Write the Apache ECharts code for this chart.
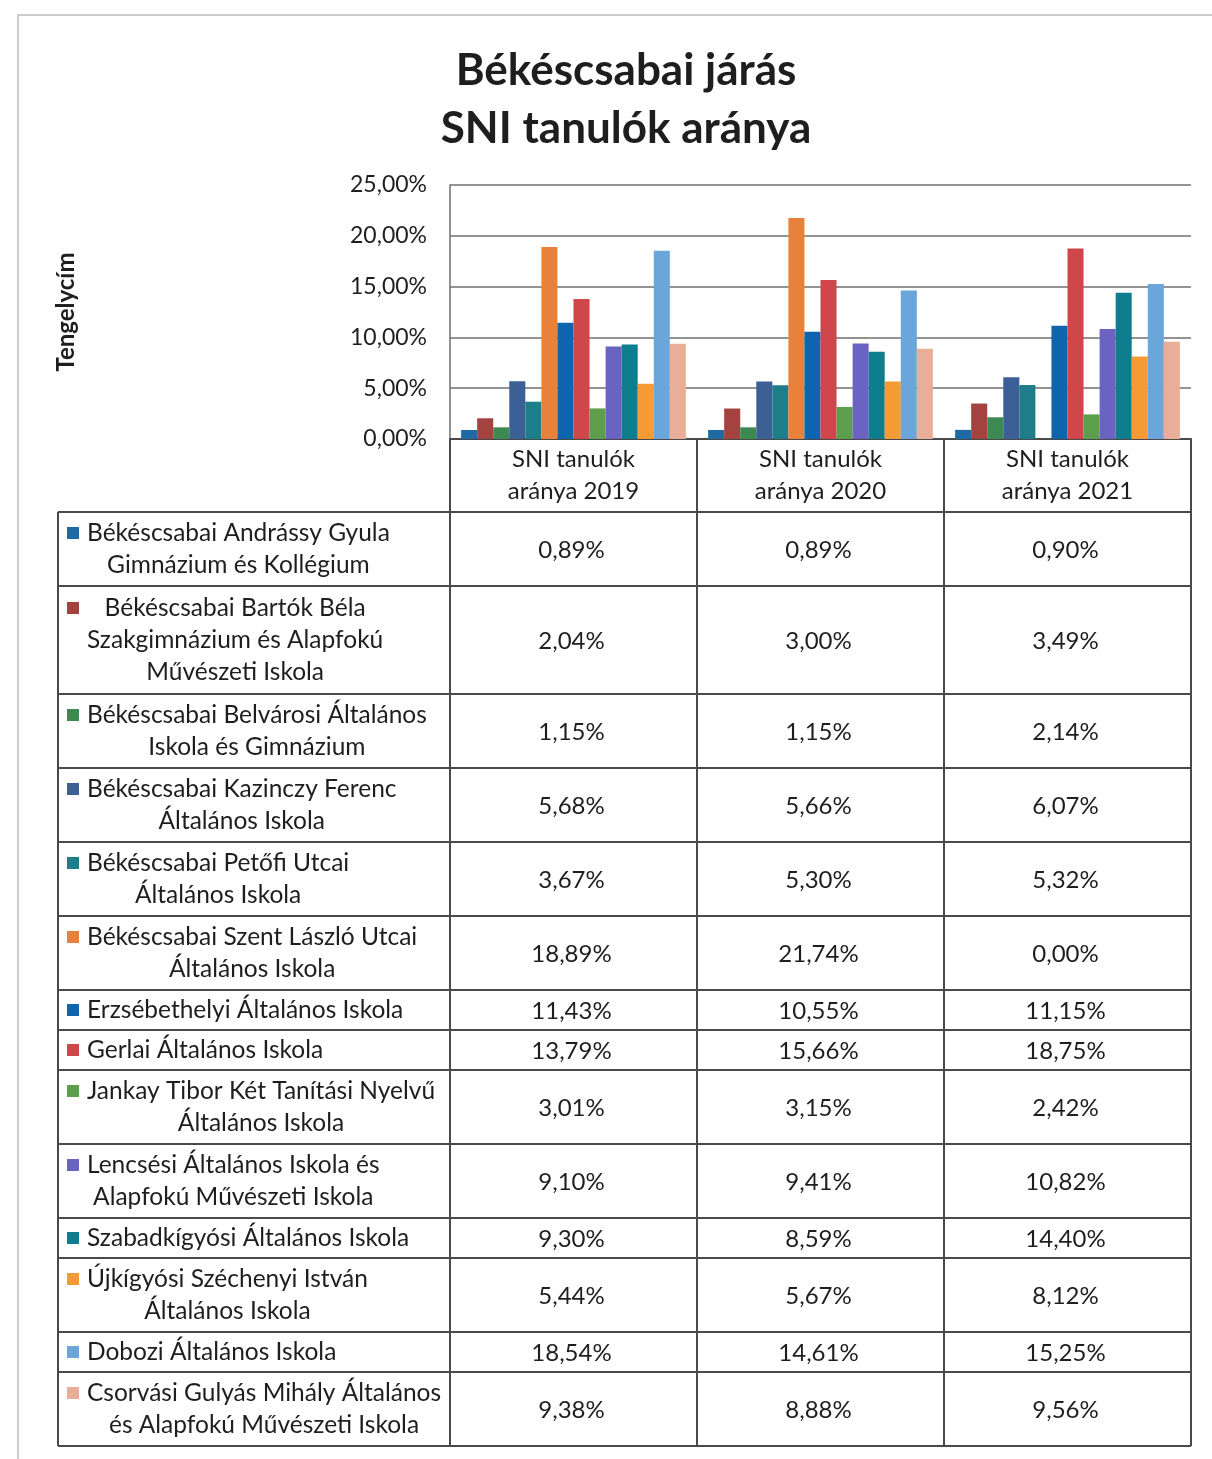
<!DOCTYPE html>
<html>
<head>
<meta charset="utf-8">
<script src="https://cdn.jsdelivr.net/npm/echarts@6/dist/echarts.min.js"></script>
<style>
html, body { margin: 0; padding: 0; background: #fff; }
#chart { width: 1212px; height: 1459px; }
</style>
</head>
<body>
<div id="chart"></div>
<script>
// adatok
var years = ['SNI tanulók\naránya 2019', 'SNI tanulók\naránya 2020', 'SNI tanulók\naránya 2021'];
var schools = [
    'Békéscsabai Andrássy Gyula\nGimnázium és Kollégium',
    'Békéscsabai Bartók Béla\nSzakgimnázium és Alapfokú\nMűvészeti Iskola',
    'Békéscsabai Belvárosi Általános\nIskola és Gimnázium',
    'Békéscsabai Kazinczy Ferenc\nÁltalános Iskola',
    'Békéscsabai Petőfi Utcai\nÁltalános Iskola',
    'Békéscsabai Szent László Utcai\nÁltalános Iskola',
    'Erzsébethelyi Általános Iskola',
    'Gerlai Általános Iskola',
    'Jankay Tibor Két Tanítási Nyelvű\nÁltalános Iskola',
    'Lencsési Általános Iskola és\nAlapfokú Művészeti Iskola',
    'Szabadkígyósi Általános Iskola',
    'Újkígyósi Széchenyi István\nÁltalános Iskola',
    'Dobozi Általános Iskola',
    'Csorvási Gulyás Mihály Általános\nés Alapfokú Művészeti Iskola'
];
var v2019 = [0.89, 2.04, 1.15, 5.68, 3.67, 18.89, 11.43, 13.79, 3.01, 9.10, 9.30, 5.44, 18.54, 9.38];
var v2020 = [0.89, 3.00, 1.15, 5.66, 5.30, 21.74, 10.55, 15.66, 3.15, 9.41, 8.59, 5.67, 14.61, 8.88];
var v2021 = [0.90, 3.49, 2.14, 6.07, 5.32, 0.00, 11.15, 18.75, 2.42, 10.82, 14.40, 8.12, 15.25, 9.56];
var yTicks = [0, 5, 10, 15, 20, 25];

var colors = ['#1f6aa3', '#a3423f', '#3c8a52', '#3c5f96', '#1d7d88', '#e8813a', '#0f65ad', '#cf464b',
              '#5c9e4c', '#6b63c2', '#0e7e8e', '#f69a35', '#6aa6da', '#e9ae98'];

var FONT = 'Lato, "Open Sans", sans-serif';
var TXT = '#1e1e1e';
var fmt = function (v) { return v.toFixed(2).replace('.', ',') + '%'; };

// elrendezés
var gridLeft = 450, gridTop = 185, gridW = 741, gridH = 254;
var colW = gridW / years.length;
var tableLeft = 58, headBottom = 512;
var lineColor = '#4a4a4a';

var myChart = echarts.init(document.getElementById('chart'));

var series = [];
for (var i = 0; i < schools.length; i++) {
    series.push({
        name: schools[i],
        type: 'bar',
        barGap: '0%',
        barCategoryGap: '9%',
        itemStyle: { color: colors[i] },
        data: [v2019[i], v2020[i], v2021[i]]
    });
}

// adattábla
var graphic = [];
var vals = [v2019, v2020, v2021];
var y = headBottom;
var gridBottom = gridTop + gridH;
graphic.push({ type: 'line', shape: { x1: tableLeft, y1: y, x2: gridLeft + gridW, y2: y }, style: { stroke: lineColor, lineWidth: 2 } });
for (var r = 0; r < schools.length; r++) {
    var parts = schools[r].split('\n');
    var lines = parts.length;
    var h = 40 + 34 * (lines - 1);
    var cy = y + h / 2;
    graphic.push({
        type: 'rect',
        shape: { x: tableLeft + 9, y: cy - (lines - 1) * 16 - 6, width: 12, height: 12 },
        style: { fill: colors[r] }
    });
    // sorok középre igazítva, a blokk a jel után kezdődik
    graphic.push({
        type: 'text',
        style: {
            text: '{c|' + parts.join('}\n{c|') + '}',
            x: tableLeft + 29, y: cy, align: 'left', verticalAlign: 'middle',
            rich: { c: { align: 'center', fontSize: 24.5, fontFamily: FONT, lineHeight: 32, fill: TXT, color: TXT } },
            fontSize: 24.5, fontFamily: FONT, lineHeight: 32, fill: TXT
        }
    });
    for (var c = 0; c < years.length; c++) {
        graphic.push({
            type: 'text',
            style: { text: fmt(vals[c][r]), x: gridLeft + colW * (c + 0.5) - 2, y: cy + 1, align: 'center', verticalAlign: 'middle', font: '24px ' + FONT, fill: TXT }
        });
    }
    y += h;
    graphic.push({ type: 'line', shape: { x1: tableLeft, y1: y, x2: gridLeft + gridW, y2: y }, style: { stroke: lineColor, lineWidth: 2 } });
}
var tableBottom = y;
graphic.push({ type: 'line', shape: { x1: tableLeft, y1: headBottom, x2: tableLeft, y2: tableBottom }, style: { stroke: lineColor, lineWidth: 2 } });
for (var k = 0; k <= years.length; k++) {
    graphic.push({ type: 'line', shape: { x1: gridLeft + colW * k, y1: gridBottom, x2: gridLeft + colW * k, y2: tableBottom }, style: { stroke: lineColor, lineWidth: 2 } });
}
// külső keret
graphic.push({ type: 'rect', shape: { x: 18, y: 15, width: 1300, height: 1500 }, style: { fill: null, stroke: '#bdbdbd', lineWidth: 1.5 }, z: -1 });

myChart.setOption({
    animation: false,
    textStyle: { fontFamily: FONT },
    title: {
        text: 'Békéscsabai járás\nSNI tanulók aránya',
        left: 621,
        top: 37,
        textAlign: 'center',
        textStyle: { fontSize: 44, fontWeight: 'bold', color: TXT, lineHeight: 58, fontFamily: FONT }
    },
    grid: { left: gridLeft, top: gridTop, width: gridW, height: gridH },
    xAxis: {
        type: 'category',
        data: years,
        axisLine: { lineStyle: { color: lineColor, width: 2 } },
        axisTick: { show: false },
        axisLabel: { margin: 4, fontSize: 24, lineHeight: 32, color: TXT, interval: 0 }
    },
    yAxis: {
        type: 'value',
        min: yTicks[0],
        max: yTicks[yTicks.length - 1],
        interval: 5,
        name: 'Tengelycím',
        nameLocation: 'middle',
        nameRotate: 90,
        nameGap: 372,
        nameTextStyle: { fontSize: 24, fontWeight: 'bold', color: TXT },
        axisLine: { show: true, lineStyle: { color: '#6f6f6f', width: 1.5 } },
        axisTick: { show: false },
        splitLine: { lineStyle: { color: '#6f6f6f', width: 1.5 } },
        axisLabel: { margin: 23, fontSize: 23, color: TXT, formatter: fmt }
    },
    series: series,
    graphic: graphic
});
</script>
</body>
</html>
